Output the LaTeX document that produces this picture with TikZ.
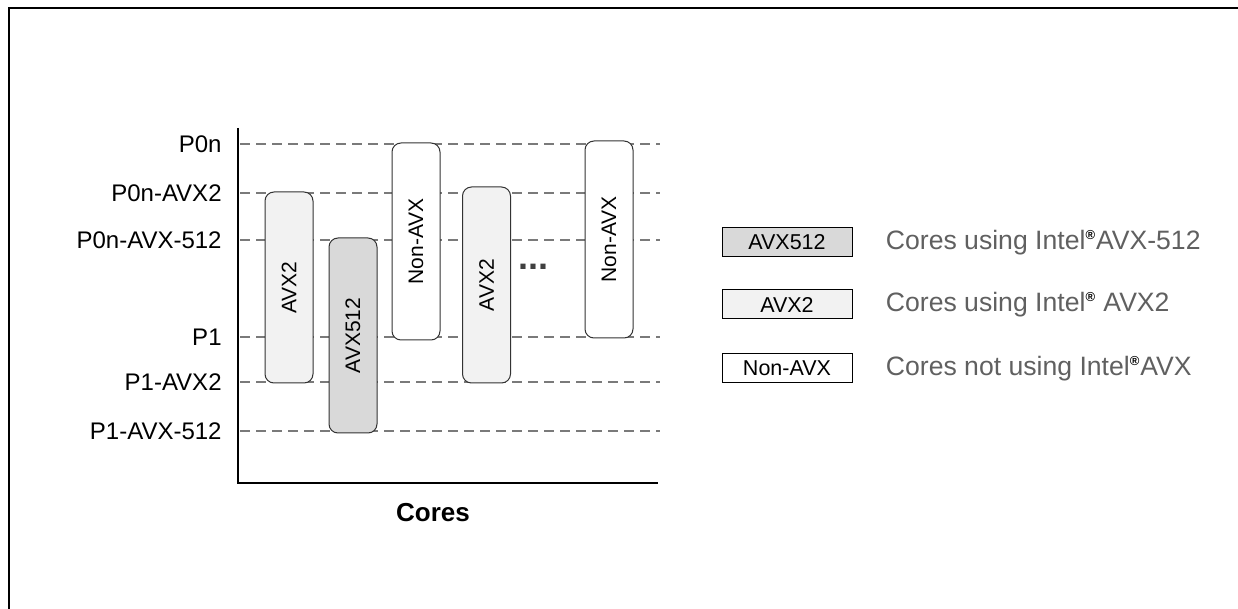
\documentclass[tikz,border=0pt]{standalone}
\usepackage{fontspec}
\setmainfont{Liberation Sans}
\usetikzlibrary{positioning}
\definecolor{fillavxfive}{HTML}{D9D9D9}
\definecolor{fillavxtwo}{HTML}{F2F2F2}
\definecolor{levelgray}{HTML}{7A7A7A}
\definecolor{legendgray}{HTML}{606060}
\definecolor{dotgray}{HTML}{404040}
\providecommand{\regmark}{{\color{black}\textsuperscript{\fontsize{6.5}{7}\selectfont\bfseries ®}}}

\begin{document}
\begin{tikzpicture}[x=0.5pt, y=-0.5pt, node distance=16pt,
    level label/.style={anchor=east, inner sep=0pt, font=\fontsize{12}{14}\selectfont},
    level line/.style={draw=levelgray, line width=1.2pt, dash pattern=on 5pt off 3pt},
    core bar/.style={draw=black!80, line width=0.5pt, rounded corners=4.5pt, rotate=90, minimum height=24pt, inner sep=0pt, font=\fontsize{10.5}{12}\selectfont},
    legend box/.style={draw, line width=0.5pt, minimum width=65pt, minimum height=14.5pt, inner sep=0pt, font=\fontsize{10.75}{12}\selectfont},
    legend text/.style={inner sep=0pt, text=legendgray, font=\fontsize{13.3}{15}\selectfont}]
    \useasboundingbox (0,0) rectangle (1238,609);

    % outer frame
    \coordinate (frame bottom) at (9,609);
    \coordinate (frame corner) at (9,8);
    \coordinate (frame right) at (1238,8);
    \draw[line width=1.2pt] (frame bottom) -- (frame corner) -- (frame right);

    % frequency levels
    \foreach \lvl/\txt in {144/P0n, 193/P0n-AVX2, 240/P0n-AVX-512, 337/P1, 382/P1-AVX2, 431/P1-AVX-512}{
        \coordinate (level \txt) at (240,\lvl);
        \coordinate (level end \txt) at (660,\lvl);
        \node[level label] (label \txt) at (222,\lvl) {\txt};
        \draw[level line] (level \txt) -- (level end \txt);
    }

    % axes
    \coordinate (axis top) at (238,128);
    \coordinate (origin) at (238,483);
    \coordinate (axis end) at (658,483);
    \draw[line width=0.9pt] (axis top) -- (origin) -- (axis end);
    \node[font=\fontsize{13}{15}\selectfont\bfseries] (cores label) at (433,513) {Cores};

    % cores
    \node[core bar, fill=fillavxtwo, minimum width=95.5pt] (bar avx2 a) at (289,287.5) {AVX2};
    \node[core bar, fill=fillavxfive, minimum width=97.5pt] (bar avx512) at (353,335.5) {AVX512};
    \node[core bar, fill=white, minimum width=98.5pt] (bar nonavx a) at (416,241.5) {Non-AVX};
    \node[core bar, fill=fillavxtwo, minimum width=98pt] (bar avx2 b) at (486.5,285) {AVX2};
    \node[anchor=base, text=dotgray, font=\fontsize{18}{18}\selectfont\bfseries] (more cores) at (533,270) {...};
    \node[core bar, fill=white, minimum width=98.5pt] (bar nonavx b) at (609,239.5) {Non-AVX};

    % legend
    \node[legend box, fill=fillavxfive] (key avx512) at (787,242.5) {AVX512};
    \node[legend box, fill=fillavxtwo, below=16pt of key avx512] (key avx2) {AVX2};
    \node[legend box, fill=white, below=17pt of key avx2] (key nonavx) {Non-AVX};
    \node[legend text, right=16.5pt of key avx512] (text avx512) {Cores using Intel\regmark AVX-512};
    \node[legend text, right=16.5pt of key avx2] (text avx2) {Cores using Intel\regmark\ AVX2};
    \node[legend text, right=16.5pt of key nonavx] (text nonavx) {Cores not using Intel\regmark AVX};
\end{tikzpicture}
\end{document}
